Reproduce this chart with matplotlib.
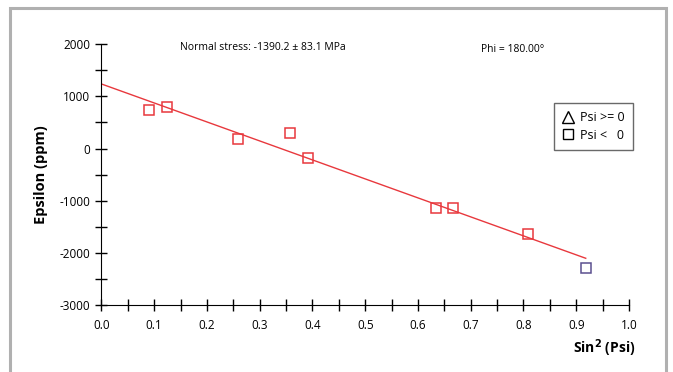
import numpy as np
import matplotlib
matplotlib.use("Agg")
import matplotlib.pyplot as plt
from matplotlib.lines import Line2D
from matplotlib.patches import Rectangle
from matplotlib.ticker import MultipleLocator

# measured strain vs sin^2(psi)
sin2psi = [0.091, 0.124, 0.258, 0.358, 0.391, 0.634, 0.666, 0.808, 0.918]
epsilon = [737, 789, 177, 303, -187, -1132, -1132, -1635, -2280]
# last point is drawn in a different colour
point_colors = ['#e8383d'] * 8 + ['#5b4f8f']

# fitted line
fit_x = [0.0, 0.918]
fit_intercept = 1235
fit_slope = -3633

stress_text = 'Normal stress: -1390.2 \u00b1 83.1 MPa'
phi_text = 'Phi = 180.00\u00b0'

plt.rcParams['font.family'] = ['Open Sans', 'DejaVu Sans']
plt.rcParams['axes.unicode_minus'] = False

fig = plt.figure(figsize=(6.73, 3.72), dpi=100)
ax = fig.add_axes([0.1508, 0.1793, 0.7838, 0.7024])

fx = np.array(fit_x)
ax.plot(fx, fit_intercept + fit_slope * fx, color='#e8383d', lw=1.0)
for x, y, c in zip(sin2psi, epsilon, point_colors):
    ax.plot(x, y, marker='s', ms=6.5, mfc='none', mec=c, mew=1.1, ls='none')

ax.set_xlim(0, 1.0)
ax.set_ylim(-3000, 2000)
ax.xaxis.set_major_locator(MultipleLocator(0.1))
ax.xaxis.set_minor_locator(MultipleLocator(0.05))
ax.yaxis.set_major_locator(MultipleLocator(1000))
ax.yaxis.set_minor_locator(MultipleLocator(500))
ax.xaxis.set_major_formatter(matplotlib.ticker.FormatStrFormatter('%.1f'))
ax.tick_params(which='both', direction='inout', length=8, width=1, labelsize=8.5, pad=4)
ax.tick_params(axis='x', pad=6)
for s in ['top', 'right']:
    ax.spines[s].set_visible(False)

ax.set_ylabel('Epsilon (ppm)', fontsize=10.5, fontweight='bold', labelpad=8)
fig.text(0.945, 0.035, 'Sin$^{\\mathbf{2}}$ (Psi)', ha='right', va='bottom',
         fontsize=10, fontweight='bold')

fig.text(0.268, 0.873, stress_text, fontsize=7.5, va='center')
fig.text(0.715, 0.868, phi_text, fontsize=7.5, va='center')

handles = [
    Line2D([], [], marker='^', ms=9, mfc='none', mec='black', ls='none'),
    Line2D([], [], marker='s', ms=7.5, mfc='none', mec='black', ls='none'),
]
leg = fig.legend(handles, ['Psi >= 0', 'Psi <   0'], loc='upper right',
                 bbox_to_anchor=(0.940, 0.723), borderaxespad=0, fontsize=9,
                 frameon=True, fancybox=False, handlelength=0.9, handletextpad=0.5,
                 borderpad=0.65, labelspacing=0.35)
leg.get_frame().set_edgecolor('#444444')
leg.get_frame().set_linewidth(1.0)

# grey frame around the picture
fig.patches.append(Rectangle((0.015, -0.1), 0.975, 1.078, transform=fig.transFigure,
                             fill=False, ec='#b0b0b0', lw=2.2))

fig.savefig('out.png', dpi=100)
